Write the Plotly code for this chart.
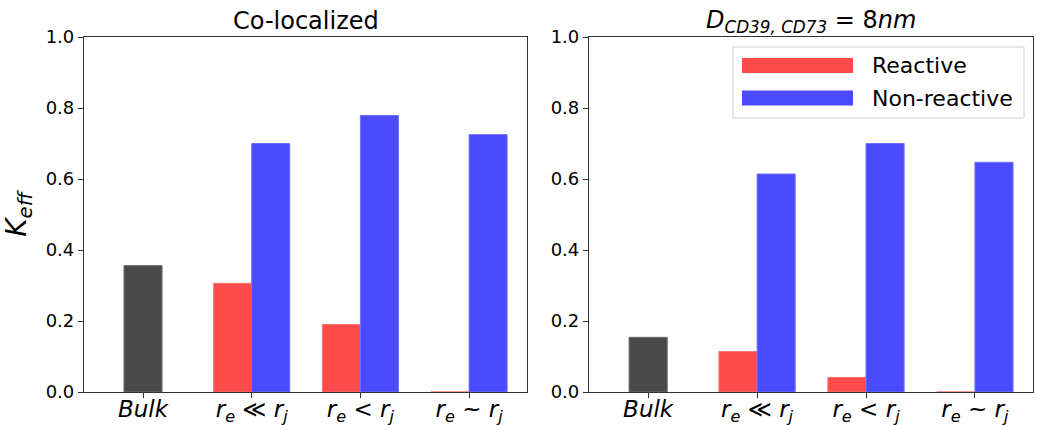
import plotly.graph_objects as go

# ---- data ----
categories = ["Bulk", "r_e<<r_j", "r_e<r_j", "r_e~r_j"]
tick_labels = [
    "<i>Bulk</i>",
    "<i>r</i><sub><i>e</i></sub> ≪ <i>r</i><sub><i>j</i></sub>",
    "<i>r</i><sub><i>e</i></sub> < <i>r</i><sub><i>j</i></sub>",
    "<i>r</i><sub><i>e</i></sub> ~ <i>r</i><sub><i>j</i></sub>",
]
cat_pos = [0, 1, 2, 3]

# Co-localized panel
coloc_bulk = [0.356]
coloc_reactive = [0.306, 0.190, 0.0]
coloc_nonreactive = [0.700, 0.779, 0.725]

# D = 8 nm panel
d8_bulk = [0.154]
d8_reactive = [0.114, 0.041, 0.0]
d8_nonreactive = [0.614, 0.700, 0.647]

titles = ["Co-localized", "<i>D</i><sub><i>CD39, CD73</i></sub> = 8<i>nm</i>"]
legend_names = ["Reactive", "Non-reactive"]
y_ticks = [0.0, 0.2, 0.4, 0.6, 0.8, 1.0]

# ---- styles ----
RED = "#ff4a4a"
BLUE = "#4a4aff"
GRAY = "#4a4a4a"
BW = 0.35
W, H = 1037, 425
FONT = "DejaVu Sans"

fig = go.Figure()

panels = [
    (coloc_bulk, coloc_reactive, coloc_nonreactive, "x", "y"),
    (d8_bulk, d8_reactive, d8_nonreactive, "x2", "y2"),
]
for bulk, react, nonreact, xa, ya in panels:
    fig.add_trace(go.Bar(x=cat_pos[:1], y=bulk, width=BW, offset=-BW / 2,
                         marker=dict(color=GRAY, line=dict(color="#6a6a6a", width=1)),
                         xaxis=xa, yaxis=ya, showlegend=False))
    fig.add_trace(go.Bar(x=cat_pos[1:], y=react, width=BW, offset=-BW,
                         marker=dict(color=RED, line=dict(color="#ff7070", width=1)),
                         xaxis=xa, yaxis=ya, showlegend=False, name=legend_names[0]))
    fig.add_trace(go.Bar(x=cat_pos[1:], y=nonreact, width=BW, offset=0,
                         marker=dict(color=BLUE, line=dict(color="#7070ff", width=1)),
                         xaxis=xa, yaxis=ya, showlegend=False, name=legend_names[1]))

x_dom1 = [84 / W, 527 / W]
x_dom2 = [589 / W, 1033 / W]
y_dom = [1 - 392 / H, 1 - 37 / H]

axis_common = dict(showline=True, linecolor="#333333", linewidth=1.2, mirror=True,
                   showgrid=False, zeroline=False, ticks="outside", ticklen=5,
                   tickcolor="#333333", automargin=False)
xcommon = dict(axis_common, tickmode="array", tickvals=cat_pos, ticktext=tick_labels,
               range=[-0.543, 3.533], ticklabelstandoff=-9,
               tickfont=dict(family=FONT, size=23, color="black"))
ycommon = dict(axis_common, range=[0, 1], tickmode="array", tickvals=y_ticks,
               ticktext=[f"{v:.1f}" for v in y_ticks],
               tickfont=dict(family=FONT, size=18, color="black"))

fig.update_layout(
    width=W, height=H,
    margin=dict(l=0, r=0, t=0, b=0),
    paper_bgcolor="white", plot_bgcolor="white",
    barmode="overlay",
    xaxis=dict(xcommon, domain=x_dom1, anchor="y"),
    xaxis2=dict(xcommon, domain=x_dom2, anchor="y2"),
    yaxis=dict(ycommon, domain=y_dom, anchor="x",
               title=dict(text="<i>K</i><sub><i>eff</i></sub>",
                          font=dict(family=FONT, size=28, color="black"), standoff=14)),
    yaxis2=dict(ycommon, domain=y_dom, anchor="x2"),
    font=dict(family=FONT, color="black"),
    showlegend=False,
)

# titles
for i, (dom, t) in enumerate(zip([x_dom1, x_dom2], titles)):
    fig.add_annotation(text=t, x=(dom[0] + dom[1]) / 2, y=1 - 21 / H,
                       xref="paper", yref="paper", showarrow=False,
                       xanchor="center", yanchor="middle",
                       font=dict(family=FONT, size=24, color="black"))

# legend (drawn manually to match the wide colour patches)
def px(x):
    return x / W

def py(y):
    return 1 - y / H

fig.add_shape(type="rect", xref="paper", yref="paper",
              x0=px(733), x1=px(1024), y0=py(118), y1=py(47),
              line=dict(color="#d0d0d0", width=1), fillcolor="rgba(255,255,255,0.8)")
for (name, col, yc) in [(legend_names[0], RED, 65.5), (legend_names[1], BLUE, 98)]:
    fig.add_shape(type="rect", xref="paper", yref="paper",
                  x0=px(742), x1=px(853), y0=py(yc + 7.5), y1=py(yc - 7.5),
                  line=dict(width=0), fillcolor=col)
    fig.add_annotation(text=name, x=px(870), y=py(yc), xref="paper", yref="paper",
                       showarrow=False, xanchor="left", yanchor="middle",
                       font=dict(family=FONT, size=22, color="black"))

fig.write_html("out.html")
